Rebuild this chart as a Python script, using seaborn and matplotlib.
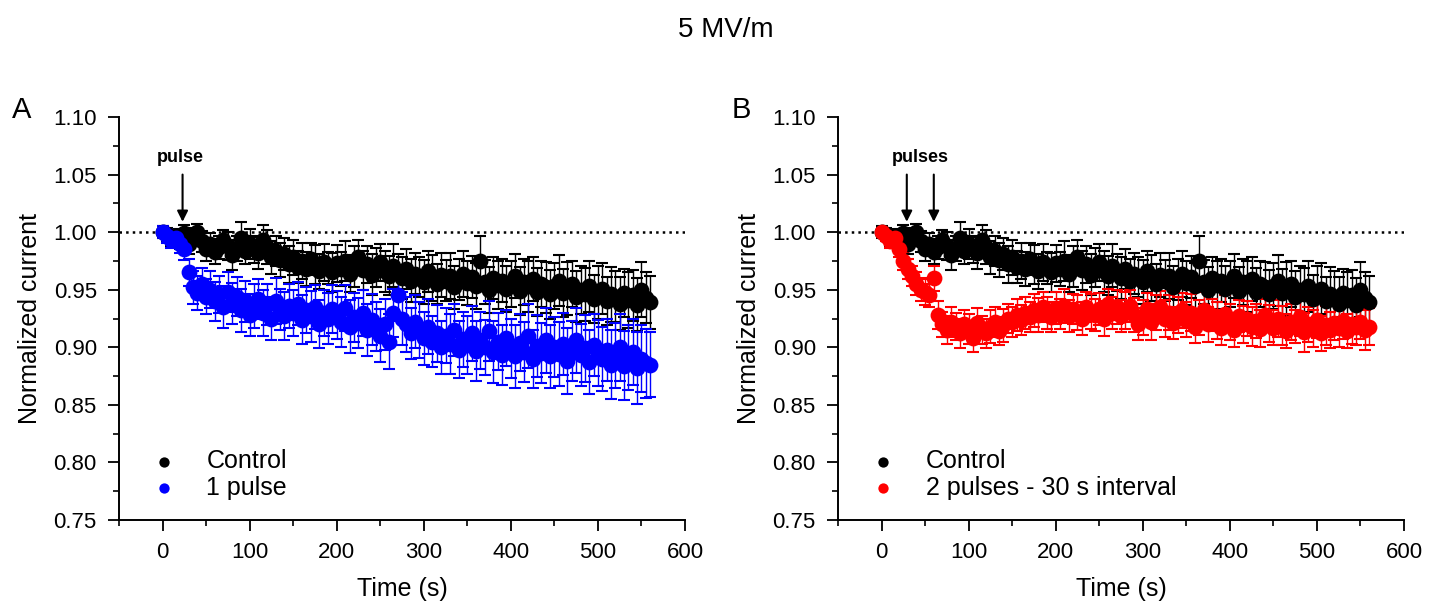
import numpy as np
import pandas as pd
import matplotlib
matplotlib.use("Agg")
import matplotlib.pyplot as plt
from matplotlib.ticker import MultipleLocator, FormatStrFormatter
import seaborn as sns

sns.set_style("ticks")
plt.rcParams['font.family'] = ['Liberation Sans', 'DejaVu Sans']
for k in ["text.color", "axes.labelcolor", "xtick.color", "ytick.color", "axes.edgecolor"]:
    plt.rcParams[k] = "black"

# sampling times (s)
time_s = list(range(0, 565, 5))

control_mean = [
    1.000, 0.998, 0.995, 0.997, 0.993, 0.999, 0.990, 0.996, 1.000, 0.992,
    0.985, 0.990, 0.983, 0.987, 0.993, 0.988, 0.980, 0.986, 0.995, 0.984,
    0.990, 0.985, 0.982, 0.993, 0.987, 0.978, 0.984, 0.976, 0.981, 0.972,
    0.978, 0.970, 0.975, 0.968, 0.977, 0.972, 0.966, 0.974, 0.969, 0.965,
    0.973, 0.968, 0.975, 0.964, 0.970, 0.978, 0.967, 0.972, 0.963, 0.969,
    0.974, 0.966, 0.962, 0.971, 0.965, 0.960, 0.968, 0.958, 0.964, 0.961,
    0.957, 0.966, 0.960, 0.955, 0.963, 0.958, 0.962, 0.952, 0.959, 0.964,
    0.956, 0.961, 0.953, 0.975, 0.957, 0.950, 0.960, 0.954, 0.958, 0.951,
    0.955, 0.962, 0.949, 0.957, 0.953, 0.959, 0.948, 0.955, 0.952, 0.946,
    0.953, 0.958, 0.947, 0.951, 0.955, 0.944, 0.950, 0.946, 0.953, 0.942,
    0.948, 0.951, 0.940, 0.946, 0.944, 0.938, 0.947, 0.941, 0.945, 0.937,
    0.950, 0.943, 0.939,
]
control_sem = [
    0.005, 0.006, 0.007, 0.006, 0.008, 0.007, 0.009, 0.008, 0.007, 0.009,
    0.010, 0.009, 0.011, 0.010, 0.009, 0.012, 0.013, 0.011, 0.014, 0.012,
    0.013, 0.012, 0.014, 0.013, 0.015, 0.014, 0.013, 0.015, 0.014, 0.016,
    0.015, 0.014, 0.016, 0.015, 0.014, 0.017, 0.015, 0.016, 0.014, 0.017,
    0.016, 0.015, 0.017, 0.016, 0.018, 0.015, 0.017, 0.016, 0.018, 0.017,
    0.016, 0.018, 0.017, 0.019, 0.016, 0.018, 0.017, 0.019, 0.018, 0.017,
    0.019, 0.018, 0.020, 0.017, 0.019, 0.018, 0.020, 0.019, 0.018, 0.020,
    0.019, 0.018, 0.020, 0.022, 0.019, 0.020, 0.018, 0.021, 0.019, 0.020,
    0.020, 0.019, 0.021, 0.020, 0.022, 0.019, 0.021, 0.020, 0.022, 0.021,
    0.020, 0.022, 0.021, 0.023, 0.020, 0.022, 0.021, 0.023, 0.022, 0.021,
    0.023, 0.022, 0.021, 0.024, 0.022, 0.023, 0.021, 0.024, 0.022, 0.023,
    0.024, 0.022, 0.023,
]

one_pulse_mean = [
    1.000, 0.997, 0.993, 0.995, 0.990, 0.985, 0.965, 0.952, 0.947, 0.955,
    0.944, 0.950, 0.940, 0.946, 0.935, 0.948, 0.938, 0.944, 0.932, 0.940,
    0.928, 0.936, 0.942, 0.930, 0.937, 0.925, 0.940, 0.933, 0.927, 0.936,
    0.930, 0.938, 0.924, 0.932, 0.927, 0.935, 0.920, 0.930, 0.925, 0.933,
    0.928, 0.922, 0.934, 0.918, 0.926, 0.921, 0.930, 0.915, 0.924, 0.918,
    0.910, 0.920, 0.905, 0.930, 0.945, 0.925, 0.920, 0.912, 0.922, 0.915,
    0.908, 0.918, 0.905, 0.912, 0.900, 0.910, 0.903, 0.915, 0.898, 0.907,
    0.902, 0.912, 0.897, 0.906, 0.900, 0.914, 0.896, 0.905, 0.893, 0.908,
    0.899, 0.892, 0.904, 0.896, 0.910, 0.890, 0.901, 0.895, 0.906, 0.892,
    0.900, 0.894, 0.903, 0.888, 0.897, 0.906, 0.893, 0.899, 0.887, 0.902,
    0.895, 0.890, 0.898, 0.885, 0.893, 0.900, 0.884, 0.891, 0.896, 0.882,
    0.890, 0.886, 0.885,
]
one_pulse_sem = [
    0.005, 0.006, 0.007, 0.007, 0.008, 0.009, 0.012, 0.014, 0.015, 0.014,
    0.015, 0.016, 0.017, 0.016, 0.018, 0.017, 0.018, 0.017, 0.019, 0.018,
    0.018, 0.019, 0.017, 0.020, 0.018, 0.019, 0.020, 0.018, 0.021, 0.019,
    0.020, 0.019, 0.021, 0.020, 0.022, 0.019, 0.021, 0.020, 0.022, 0.021,
    0.021, 0.022, 0.020, 0.023, 0.021, 0.022, 0.020, 0.023, 0.022, 0.021,
    0.023, 0.022, 0.024, 0.021, 0.022, 0.023, 0.024, 0.022, 0.023, 0.024,
    0.023, 0.024, 0.022, 0.025, 0.023, 0.024, 0.026, 0.023, 0.025, 0.024,
    0.025, 0.024, 0.026, 0.025, 0.024, 0.026, 0.027, 0.025, 0.026, 0.024,
    0.026, 0.027, 0.025, 0.026, 0.028, 0.025, 0.027, 0.026, 0.028, 0.027,
    0.026, 0.028, 0.027, 0.029, 0.026, 0.028, 0.027, 0.029, 0.028, 0.027,
    0.029, 0.028, 0.027, 0.030, 0.028, 0.029, 0.030, 0.028, 0.029, 0.031,
    0.029, 0.030, 0.028,
]

two_pulse_mean = [
    1.000, 0.997, 0.992, 0.995, 0.985, 0.975, 0.968, 0.962, 0.955, 0.950,
    0.948, 0.945, 0.960, 0.928, 0.920, 0.915, 0.922, 0.918, 0.912, 0.920,
    0.916, 0.908, 0.921, 0.915, 0.912, 0.918, 0.922, 0.914, 0.919, 0.925,
    0.922, 0.928, 0.924, 0.930, 0.926, 0.932, 0.928, 0.935, 0.930, 0.926,
    0.934, 0.929, 0.936, 0.927, 0.933, 0.930, 0.925, 0.935, 0.931, 0.928,
    0.933, 0.925, 0.938, 0.930, 0.935, 0.927, 0.932, 0.936, 0.928, 0.920,
    0.926, 0.933, 0.922, 0.930, 0.935, 0.925, 0.930, 0.921, 0.928, 0.932,
    0.924, 0.930, 0.918, 0.926, 0.932, 0.920, 0.928, 0.923, 0.917, 0.929,
    0.922, 0.915, 0.927, 0.920, 0.925, 0.918, 0.923, 0.916, 0.928, 0.921,
    0.917, 0.925, 0.919, 0.914, 0.922, 0.918, 0.926, 0.913, 0.920, 0.916,
    0.924, 0.912, 0.919, 0.915, 0.921, 0.917, 0.923, 0.914, 0.920, 0.918,
    0.922, 0.915, 0.918,
]
two_pulse_sem = [
    0.004, 0.005, 0.006, 0.006, 0.007, 0.008, 0.009, 0.009, 0.010, 0.010,
    0.011, 0.010, 0.011, 0.012, 0.011, 0.012, 0.013, 0.012, 0.013, 0.012,
    0.013, 0.012, 0.013, 0.012, 0.013, 0.014, 0.013, 0.012, 0.014, 0.013,
    0.013, 0.014, 0.013, 0.014, 0.013, 0.014, 0.015, 0.013, 0.014, 0.013,
    0.014, 0.013, 0.015, 0.014, 0.013, 0.015, 0.014, 0.013, 0.015, 0.014,
    0.014, 0.015, 0.013, 0.014, 0.015, 0.014, 0.016, 0.014, 0.015, 0.014,
    0.015, 0.014, 0.016, 0.015, 0.014, 0.016, 0.015, 0.014, 0.016, 0.015,
    0.015, 0.016, 0.014, 0.015, 0.016, 0.015, 0.014, 0.016, 0.015, 0.016,
    0.016, 0.015, 0.014, 0.016, 0.015, 0.017, 0.015, 0.016, 0.014, 0.016,
    0.015, 0.016, 0.017, 0.015, 0.016, 0.014, 0.016, 0.017, 0.015, 0.016,
    0.016, 0.015, 0.017, 0.016, 0.015, 0.017, 0.016, 0.015, 0.017, 0.016,
    0.015, 0.017, 0.016,
]

panels = [
    # (panel letter, treatment label, mean, sem, colour, arrow times, arrow text, text x)
    ("A", "1 pulse", one_pulse_mean, one_pulse_sem, "#0000ff", [23], "pulse", 20),
    ("B", "2 pulses - 30 s interval", two_pulse_mean, two_pulse_sem, "#ff0000", [29, 60], "pulses", 44),
]

fig = plt.figure(figsize=(14.51, 6.07), dpi=100)
W, H = 1451, 607
ax_lefts = [119, 838]
ax_w = 566

for (letter, lab, mean, sem, col, arrows, atxt, tx), left in zip(panels, ax_lefts):
    ax = fig.add_axes([left / W, (H - 520) / H, ax_w / W, (520 - 117) / H])

    ax.axhline(1.0, color="black", ls=":", lw=1.8, zorder=1)

    for name, m, e, c in [("Control", control_mean, control_sem, "black"), (lab, mean, sem, col)]:
        df = pd.DataFrame({"time": time_s, "current": m, "sem": e})
        ax.errorbar(df["time"], df["current"], yerr=df["sem"], fmt="none",
                    ecolor=c, elinewidth=1.0, capsize=4.5, capthick=1.5, zorder=2)
        sns.scatterplot(data=df, x="time", y="current", color=c, s=130,
                        linewidth=0, label=name, ax=ax, zorder=3)

    for t in arrows:
        ax.annotate("", xy=(t, 1.009), xytext=(t, 1.05),
                    arrowprops=dict(arrowstyle="-|>", color="black", lw=1.5,
                                    mutation_scale=16, shrinkA=0, shrinkB=0))
    ax.text(tx, 1.065, atxt, ha="center", va="center", fontsize=13, fontweight="bold")

    ax.set_xlim(-50, 600)
    ax.set_ylim(0.75, 1.10)
    ax.xaxis.set_major_locator(MultipleLocator(100))
    ax.xaxis.set_minor_locator(MultipleLocator(50))
    ax.yaxis.set_major_locator(MultipleLocator(0.05))
    ax.yaxis.set_minor_locator(MultipleLocator(0.025))
    ax.yaxis.set_major_formatter(FormatStrFormatter("%.2f"))
    ax.tick_params(which="major", length=8, width=1.3, labelsize=16, pad=8)
    ax.tick_params(which="minor", length=4.5, width=1.2)
    for sp in ["left", "bottom"]:
        ax.spines[sp].set_linewidth(1.4)
    sns.despine(ax=ax)
    ax.set_xlabel("Time (s)", fontsize=18, labelpad=10)
    ax.set_ylabel("Normalized current", fontsize=18, labelpad=8)

    ax.legend(loc="lower left", bbox_to_anchor=(0.0, 0.0), frameon=False,
              fontsize=18, markerscale=0.65, handletextpad=0.7,
              labelspacing=0.1, borderaxespad=0.4, borderpad=0.4)

    fig.text((left - 97) / W, 1 - 110 / H, letter, fontsize=21, ha="center", va="center")

fig.text(0.5, 1 - 30 / H, "5 MV/m", fontsize=20, ha="center", va="center")

fig.savefig("out.png", dpi=100)
